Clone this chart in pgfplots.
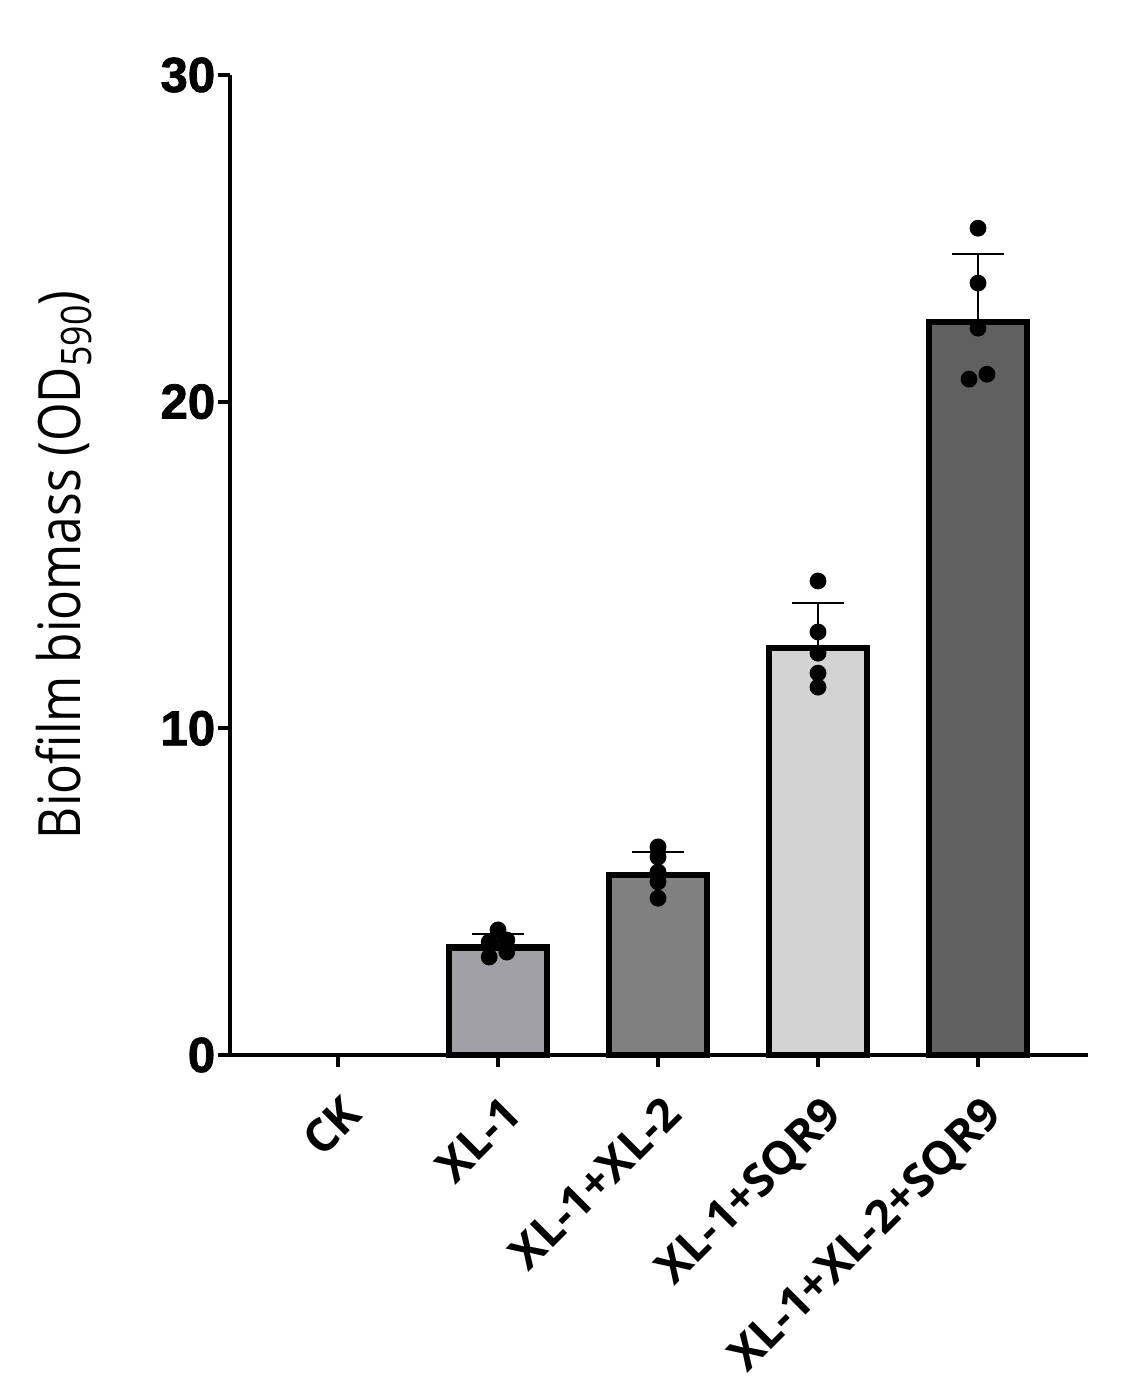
\documentclass[border=0pt]{standalone}
\usepackage{fontspec}
\setmainfont{Liberation Sans}
\newfontfamily\labfont[FakeStretch=0.85]{Open Sans}
\newfontfamily\xfont{Open Sans}
\newfontfamily\yfont[FakeBold=1.5]{Liberation Sans}
\usepackage{pgfplots}
\pgfplotsset{compat=1.18}
\definecolor{cA}{RGB}{161,160,165}
\definecolor{cB}{RGB}{128,128,128}
\definecolor{cC}{RGB}{211,211,211}
\definecolor{cD}{RGB}{96,96,96}
\begin{document}
\begin{tikzpicture}
\begin{axis}[
  scale only axis,
  width=214.5pt, height=245pt,
  xmin=-0.675, xmax=4.6875,
  ymin=0, ymax=30,
  axis x line*=bottom, axis y line*=left,
  axis line style={line width=1pt, -},
  every tick/.style={line width=1pt, black},
  tick align=outside,
  major tick length=3pt,
  xtick={0,1,2,3,4},
  xticklabels={CK, XL-1, XL-1+XL-2, XL-1+SQR9, XL-1+XL-2+SQR9},
  x tick label style={font=\xfont\fontsize{11.4}{11.4}\selectfont\bfseries, rotate=45, anchor=north east, inner sep=1pt, xshift=-3pt, yshift=-4pt},
  ytick={0,10,20,30},
  y tick label style={font=\yfont\fontsize{12.3}{12.3}\selectfont\bfseries, inner sep=0.5pt},
  /pgf/number format/assume math mode=true,
  ylabel={\labfont\fontsize{14.6}{14.6}\selectfont Biofilm biomass (OD\raisebox{-0.35ex}{\fontsize{10.5}{10.5}\selectfont 590})},
  ylabel style={at={(axis description cs:-0.194,0.5)}, anchor=center, rotate=0},
  clip=false,
]
\addplot[ybar, bar shift=0pt, bar width=24.5pt, fill=cA, draw=black, line width=1.7pt,
  error bars/.cd, y dir=plus, y explicit, error bar style={line width=0.5pt, black}, error mark options={line width=0.5pt, mark size=6.5pt, rotate=90}]
  coordinates {(1,3.28) +- (0,0.42)};
\addplot[ybar, bar shift=0pt, bar width=24.5pt, fill=cB, draw=black, line width=1.7pt,
  error bars/.cd, y dir=plus, y explicit, error bar style={line width=0.5pt, black}, error mark options={line width=0.5pt, mark size=6.5pt, rotate=90}]
  coordinates {(2,5.51) +- (0,0.70)};
\addplot[ybar, bar shift=0pt, bar width=24.5pt, fill=cC, draw=black, line width=1.7pt,
  error bars/.cd, y dir=plus, y explicit, error bar style={line width=0.5pt, black}, error mark options={line width=0.5pt, mark size=6.5pt, rotate=90}]
  coordinates {(3,12.46) +- (0,1.37)};
\addplot[ybar, bar shift=0pt, bar width=24.5pt, fill=cD, draw=black, line width=1.7pt,
  error bars/.cd, y dir=plus, y explicit, error bar style={line width=0.5pt, black}, error mark options={line width=0.5pt, mark size=6.5pt, rotate=90}]
  coordinates {(4,22.44) +- (0,2.08)};
\addplot[only marks, mark=*, mark size=1.9pt, black] coordinates {
  (1,3.83) (0.945,3.46) (1.055,3.52) (0.945,3.00) (1.055,3.15)
  (2,6.37) (2,6.06) (2,5.60) (2,5.30) (2,4.80)
  (3,14.51) (3,12.95) (3,12.30) (3,11.69) (3,11.26)
  (4,25.31) (4,23.63) (4,22.25) (3.944,20.69) (4.056,20.84)
};
\coordinate (BL) at (rel axis cs:-0.2681,-0.3398);
\coordinate (TR) at (rel axis cs:1.0629,1.0765);
\end{axis}
\pgfresetboundingbox
\useasboundingbox (BL) rectangle (TR);
\end{tikzpicture}
\end{document}
